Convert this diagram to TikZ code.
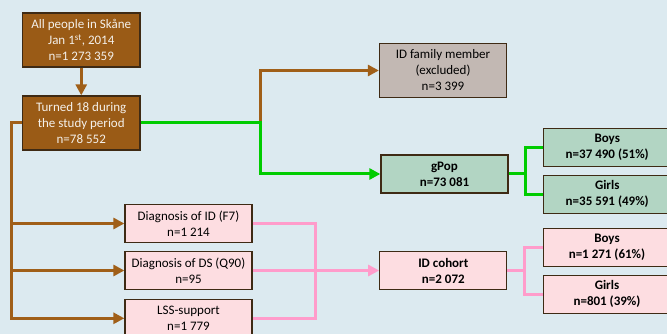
\documentclass[tikz,border=0pt]{standalone}
\usepackage{fontspec}
\setmainfont{Carlito}
\usetikzlibrary{arrows.meta}
\definecolor{bg}{HTML}{DCEAF0}
\definecolor{brfill}{HTML}{9A5B16}
\definecolor{brline}{HTML}{A05F18}
\definecolor{bordc}{HTML}{3E2A14}
\definecolor{greyfill}{HTML}{C2B8B3}
\definecolor{grfill}{HTML}{B2D5C3}
\definecolor{pkfill}{HTML}{FDDDE1}
\definecolor{grline}{HTML}{00CC00}
\definecolor{pkline}{HTML}{FF9CCB}
\definecolor{wtxt}{HTML}{F4F0EA}
\tikzset{
  box/.style={draw=bordc, line width=1.3pt, minimum width=127pt, minimum height=38pt,
    align=center, inner sep=1pt, font=\fontsize{13}{16}\selectfont},
  brbox/.style={box, fill=brfill, text=wtxt, minimum width=117.5pt, minimum height=54pt},
  greybox/.style={box, fill=greyfill, minimum height=54pt},
  grbox/.style={box, fill=grfill, font=\fontsize{13}{16}\selectfont\bfseries},
  pkbox/.style={box, fill=pkfill},
  pkbbox/.style={box, fill=pkfill, font=\fontsize{13}{16}\selectfont\bfseries},
  conn/.style={line width=3pt},
  tip/.style={-{Triangle[length=11pt,width=11pt]}},
  brc/.style={conn, draw=brline},
  grc/.style={conn, draw=grline},
  pkc/.style={conn, draw=pkline},
}
\begin{document}
\begin{tikzpicture}[x=1pt,y=-1pt]
\useasboundingbox (0,0) rectangle (667,334);
\clip (0,0) rectangle (667,334);
\fill[bg] (0,0) rectangle (667,334);

\coordinate (bx) at (11,0);
\coordinate (sx) at (260.5,0);
\coordinate (gx) at (525,0);
\coordinate (px) at (315,0);
\coordinate (qx) at (524,0);

\node[brbox] (all) at (81.25,40) {All people in Skåne\\Jan 1\textsuperscript{st}, 2014\\n=1 273 359};
\node[brbox] (t18) at (81.25,123) {Turned 18 during\\the study period\\n=78 552};
\node[greybox] (fam) at (443,70.5) {ID family member\\(excluded)\\n=3 399};
\node[grbox] (gpop) at (444.5,174) {gPop\\n=73 081};
\node[grbox] (gboys) at (607.25,147.2) {Boys\\n=37 490 (51\%)};
\node[grbox] (ggirls) at (607.25,194.2) {Girls\\n=35 591 (49\%)};
\node[pkbox] (did) at (188.5,223.5) {Diagnosis of ID (F7)\\n=1 214};
\node[pkbox] (dds) at (188.5,270.5) {Diagnosis of DS (Q90)\\n=95};
\node[pkbox] (lss) at (188.5,318.3) {LSS-support\\n=1 779};
\node[pkbbox] (idc) at (443.3,270.5) {ID cohort\\n=2 072};
\node[pkbbox] (iboys) at (607,247.2) {Boys\\n=1 271 (61\%)};
\node[pkbbox] (igirls) at (607,294.3) {Girls\\n=801 (39\%)};

\draw[brc, tip] (all.south) -- (t18.north);
\draw[brc, tip] (t18.west) -| (bx |- lss.west) -- (lss.west);
\draw[brc, tip] (bx |- did.west) -- (did.west);
\draw[brc, tip] (bx |- dds.west) -- (dds.west);

\draw[brc, tip] (sx |- t18.east) |- (fam.west);
\draw[grc, tip] (t18.east) -| (sx |- gpop.west) -- (gpop.west);

\draw[grc] (gpop.east) -- (gx |- gpop.east);
\draw[grc] (gboys.west) -| (gx |- ggirls.west) -- (ggirls.west);

\draw[pkc] (did.east) -| (px |- lss.east) -- (lss.east);
\draw[pkc, tip] (dds.east) -- (idc.west);

\draw[pkc] (idc.east) -- (qx |- idc.east);
\draw[pkc] (iboys.west) -| (qx |- igirls.west) -- (igirls.west);
\end{tikzpicture}
\end{document}
